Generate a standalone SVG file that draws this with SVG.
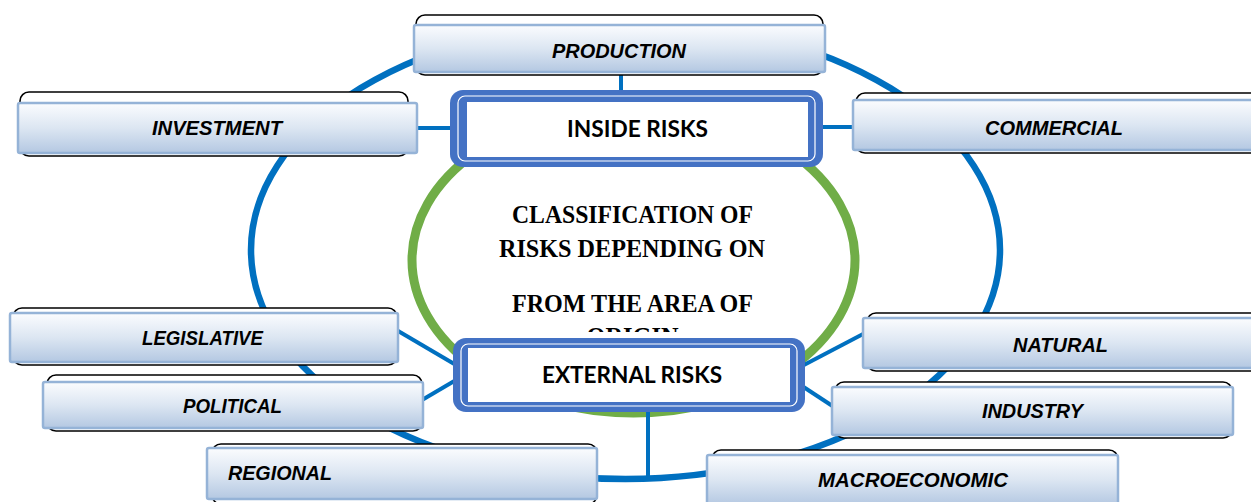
<svg xmlns="http://www.w3.org/2000/svg" width="1251" height="502" viewBox="0 0 1251 502">
  <defs>
    <linearGradient id="boxGrad" x1="0" y1="0" x2="0" y2="1">
      <stop offset="0" stop-color="#FBFCFE"/>
      <stop offset="0.5" stop-color="#DCE6F2"/>
      <stop offset="1" stop-color="#B4C8E2"/>
    </linearGradient>
    <clipPath id="originClip">
      <rect x="400" y="300" width="460" height="32"/>
    </clipPath>
    <style>
      .ring { fill: none; stroke: #0070C0; stroke-width: 6.5; }
      .inner-ring { fill: none; stroke: #70AD47; stroke-width: 9; }
      .conn { stroke: #0070C0; stroke-width: 4; fill: none; }
      .frame { fill: #FFFFFF; stroke: #000000; stroke-width: 1.6; }
      .box { fill: url(#boxGrad); stroke: #95B3D7; stroke-width: 2.5; }
      .lbl { font-family: "Liberation Sans", Arial, sans-serif; font-weight: bold; font-style: italic; font-size: 21px; fill: #000; text-anchor: middle; }
      .cat-outer { fill: #4472C4; }
      .cat-inner { fill: #FFFFFF; }
      .cat-line { fill: none; stroke: #FFFFFF; stroke-width: 1.2; }
      .cat-lbl { font-family: Lato, "Liberation Sans", sans-serif; font-weight: bold; font-size: 23px; fill: #000; text-anchor: middle; }
      .title { font-family: "Liberation Serif", "Times New Roman", serif; font-weight: bold; font-size: 26px; fill: #000; text-anchor: middle; }
    </style>
  </defs>

  <g id="rings">
    <ellipse class="ring" cx="625.5" cy="250" rx="374.5" ry="229"/>
    <ellipse class="inner-ring" cx="633.5" cy="260" rx="221.5" ry="153"/>
  </g>

  <g id="title">
    <text class="title" x="632.5" y="223" textLength="241" lengthAdjust="spacingAndGlyphs">CLASSIFICATION OF</text>
    <text class="title" x="632" y="257" textLength="266" lengthAdjust="spacingAndGlyphs">RISKS DEPENDING ON</text>
    <text class="title" x="632.5" y="312" textLength="241" lengthAdjust="spacingAndGlyphs">FROM THE AREA OF</text>
    <text class="title" x="632.5" y="345" textLength="92" lengthAdjust="spacingAndGlyphs" clip-path="url(#originClip)">ORIGIN</text>
  </g>

  <g id="connectors">
    <line class="conn" x1="621" y1="72" x2="621" y2="100"/>
    <line class="conn" x1="413" y1="128" x2="455" y2="128"/>
    <line class="conn" x1="820" y1="127" x2="857" y2="127"/>
    <line class="conn" x1="393" y1="328" x2="456" y2="365"/>
    <line class="conn" x1="422" y1="400" x2="456" y2="380"/>
    <line class="conn" x1="802" y1="366" x2="865" y2="333"/>
    <line class="conn" x1="802" y1="386" x2="834" y2="407"/>
    <line class="conn" x1="648" y1="400" x2="648" y2="476"/>
  </g>

  <g id="node-production">
    <rect class="frame" x="416" y="15" width="407" height="60" rx="9"/>
    <rect class="box" x="414" y="25" width="411" height="47" rx="2"/>
    <text class="lbl" x="619" y="58" textLength="134" lengthAdjust="spacingAndGlyphs">PRODUCTION</text>
  </g>

  <g id="node-investment">
    <rect class="frame" x="20" y="92" width="388" height="64" rx="9"/>
    <rect class="box" x="18" y="103" width="399" height="50" rx="2"/>
    <text class="lbl" x="217" y="135" textLength="130" lengthAdjust="spacingAndGlyphs">INVESTMENT</text>
  </g>

  <g id="node-commercial">
    <rect class="frame" x="856" y="93" width="410" height="60" rx="9"/>
    <rect class="box" x="853" y="100" width="410" height="50" rx="2"/>
    <text class="lbl" x="1054" y="135" textLength="138" lengthAdjust="spacingAndGlyphs">COMMERCIAL</text>
  </g>

  <g id="node-legislative">
    <rect class="frame" x="13" y="308" width="384" height="57" rx="9"/>
    <rect class="box" x="10" y="313" width="388" height="49" rx="2"/>
    <text class="lbl" x="202.5" y="345" textLength="121" lengthAdjust="spacingAndGlyphs">LEGISLATIVE</text>
  </g>

  <g id="node-political">
    <rect class="frame" x="47" y="375" width="375" height="56" rx="9"/>
    <rect class="box" x="43" y="382" width="380" height="46" rx="2"/>
    <text class="lbl" x="232.5" y="413" textLength="99" lengthAdjust="spacingAndGlyphs">POLITICAL</text>
  </g>

  <g id="node-regional">
    <rect class="frame" x="212" y="444" width="385" height="60" rx="9"/>
    <rect class="box" x="207" y="448" width="390" height="51" rx="2"/>
    <text class="lbl" x="280" y="480" textLength="104" lengthAdjust="spacingAndGlyphs">REGIONAL</text>
  </g>

  <g id="node-natural">
    <rect class="frame" x="867" y="313" width="400" height="58" rx="9"/>
    <rect class="box" x="863" y="318" width="400" height="50" rx="2"/>
    <text class="lbl" x="1060.5" y="352" textLength="95" lengthAdjust="spacingAndGlyphs">NATURAL</text>
  </g>

  <g id="node-industry">
    <rect class="frame" x="835" y="382" width="397" height="56" rx="9"/>
    <rect class="box" x="832" y="387" width="401" height="48" rx="2"/>
    <text class="lbl" x="1032.5" y="418" textLength="101" lengthAdjust="spacingAndGlyphs">INDUSTRY</text>
  </g>

  <g id="node-macroeconomic">
    <rect class="frame" x="712" y="450" width="406" height="60" rx="9"/>
    <rect class="box" x="707" y="455" width="411" height="50" rx="2"/>
    <text class="lbl" x="913" y="487" textLength="190" lengthAdjust="spacingAndGlyphs">MACROECONOMIC</text>
  </g>

  <g id="node-inside-risks">
    <rect class="cat-outer" x="450" y="90" width="373" height="77" rx="13"/>
    <rect class="cat-line" x="458" y="96" width="357" height="65" rx="7"/>
    <rect class="cat-inner" x="467" y="102" width="341" height="55"/>
    <text class="cat-lbl" x="637.5" y="137" textLength="141" lengthAdjust="spacingAndGlyphs">INSIDE RISKS</text>
  </g>

  <g id="node-external-risks">
    <rect class="cat-outer" x="453" y="338" width="352" height="74" rx="13"/>
    <rect class="cat-line" x="461" y="344" width="336" height="62" rx="7"/>
    <rect class="cat-inner" x="468" y="348" width="322" height="54"/>
    <text class="cat-lbl" x="632" y="383" textLength="180" lengthAdjust="spacingAndGlyphs">EXTERNAL RISKS</text>
  </g>
</svg>
